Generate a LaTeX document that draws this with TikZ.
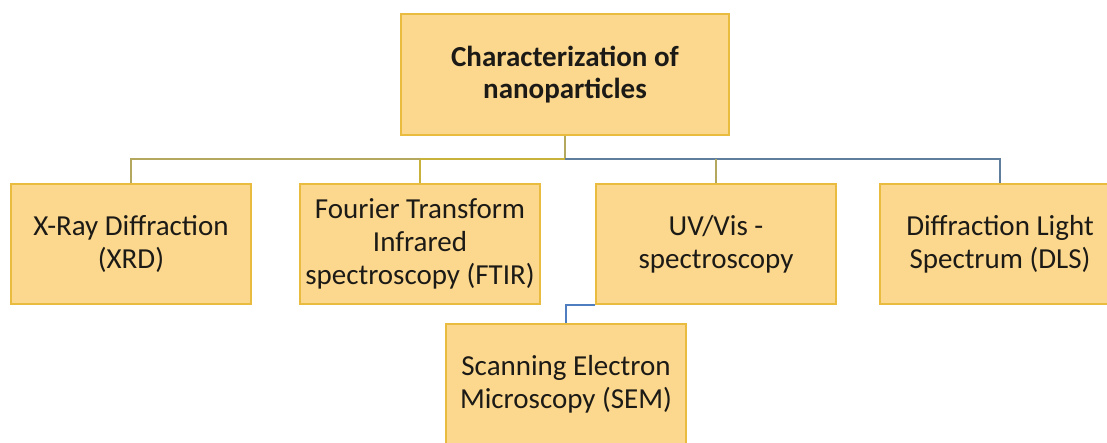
\documentclass[tikz,border=0pt]{standalone}
\usepackage{fontspec}
\setmainfont{Carlito}
\usepackage{xcolor}
\usepackage{tikz}
\usetikzlibrary{positioning,calc}
\definecolor{Sand}{HTML}{FCD88E}
\definecolor{Amber}{HTML}{E9BC40}
\definecolor{Olive}{HTML}{B3A85E}
\definecolor{Gold}{HTML}{C9B23C}
\definecolor{Slate}{HTML}{5F7E9E}
\definecolor{Steel}{HTML}{4E7EC0}
\definecolor{Ink}{HTML}{1C1A16}

\begin{document}
\begin{tikzpicture}[x=1pt,y=-1pt,
    box/.style={draw=Amber,line width=1.4pt,fill=Sand,text=Ink,align=center,
      inner sep=2pt,font=\fontsize{29}{33}\selectfont},
    techbox/.style={box,minimum width=240pt,minimum height=120pt},
    headbox/.style={box,minimum width=328pt,minimum height=121pt,
      font=\fontsize{29}{32}\selectfont\bfseries},
    link/.style={line width=2pt}]
  \useasboundingbox (0,0) rectangle (1107,442);
  \node[headbox] (char) at (565,74.5) {Characterization of\\nanoparticles};
  \node[techbox] (xrd) at (131,244) {X-Ray Diffraction\\(XRD)};
  \node[techbox] (ftir) at (420,244) {Fourier Transform\\Infrared\\spectroscopy (FTIR)};
  \node[techbox] (uv) at (716,244) {UV/Vis -\\spectroscopy};
  \node[techbox] (dls) at (1000,244) {Diffraction Light\\Spectrum (DLS)};
  \node[techbox] (sem) at (566,384) {Scanning Electron\\Microscopy (SEM)};
  \coordinate (bus) at (565,159);
  % tree connectors
  \draw[link,Olive] (char.south) -- (bus);
  \draw[link,Slate] (bus) -| (dls.north);
  \draw[link,Olive] (uv.north) -- (uv.north |- bus);
  \draw[link,Gold] (bus) -| (ftir.north);
  \draw[link,Olive] (ftir.north |- bus) -| (xrd.north);
  \draw[link,Steel] (uv.south west) -| (sem.north);
\end{tikzpicture}
\end{document}
